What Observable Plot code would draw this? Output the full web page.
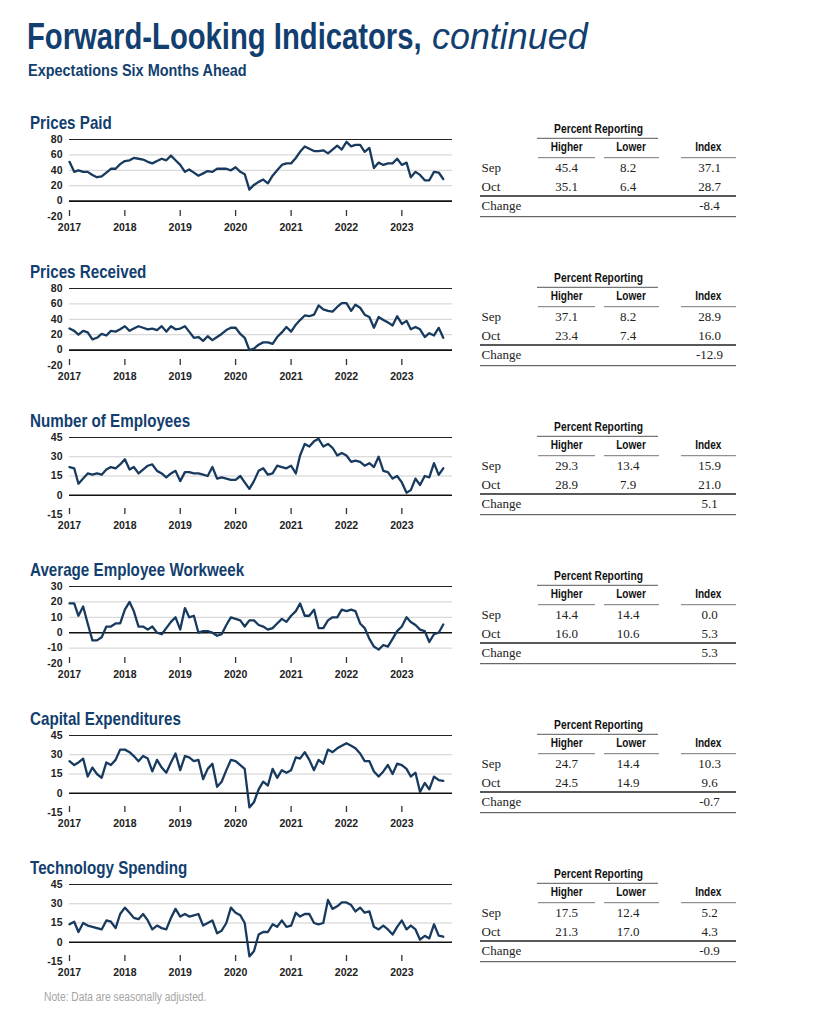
<!DOCTYPE html>
<html><head><meta charset="utf-8">
<script src="https://cdn.jsdelivr.net/npm/d3@7"></script>
<script src="https://cdn.jsdelivr.net/npm/@observablehq/plot@0.6"></script>
<style>
body{margin:0;background:#fff;}
#page{position:relative;width:813px;height:1012px;overflow:hidden;background:#fff;}
.abs{position:absolute;white-space:nowrap;line-height:1;}
</style></head><body><div id="page"></div>
<script>
// ---------- DATA (monthly, Jan 2017 – Oct 2023) ----------
const years = [2017, 2018, 2019, 2020, 2021, 2022, 2023];

const pricesPaid = [
  51, 38, 40, 38, 38, 34, 31, 32, 37, 42, 42, 48,
  52, 53, 56, 55, 54, 51, 49, 52, 55, 53, 59, 53,
  47, 38, 41, 37, 33, 36, 39, 38, 42, 42, 42, 40,
  44, 38, 35, 15, 21, 25, 28, 23, 33, 40, 47, 49,
  49, 56, 64, 71, 68, 65, 65, 66, 62, 67, 72, 67,
  77, 71, 73, 73, 64, 69, 43, 50, 47, 49, 49, 55,
  47, 50, 31, 38, 34, 27, 27, 38, 37.1, 28.7
];
const pricesReceived = [
  28, 25, 20, 25, 23, 14, 16, 21, 19, 25, 24, 27,
  31, 25, 28, 31, 29, 27, 28, 26, 31, 24, 31, 27,
  28, 31, 24, 16, 17, 12, 18, 13, 17, 21, 26, 29,
  29, 21, 16, 0, 2, 7, 10, 10, 8, 17, 23, 30,
  24, 33, 39, 45, 44, 46, 58, 53, 51, 50, 56, 61,
  61, 51, 59, 55, 46, 43, 29, 43, 39, 36, 32, 44,
  34, 38, 27, 30, 27, 17, 22, 19, 28.9, 16.0
];
const numberOfEmployees = [
  22, 21, 9, 13, 17, 16, 17, 16, 20, 22, 21, 24,
  28, 20, 22, 17, 20, 23, 24, 19, 17, 14, 17, 19,
  11, 18, 18, 17, 17, 16, 15, 22, 13, 14, 13, 12,
  12, 15, 10, 5, 11, 19, 21, 16, 17, 23, 22, 21,
  23, 17, 31, 40, 38, 42, 44, 38, 40, 37, 31, 33,
  31, 26, 27, 26, 23, 25, 22, 30, 19, 18, 13, 15,
  10, 2, 4, 13, 8, 15, 14, 25, 15.9, 21.0
];
const avgWorkweek = [
  19, 19, 11, 17, 6, -5, -5, -3, 4, 4, 6, 6,
  15, 20, 14, 4, 4, 2, 4, 0, -1, 3, 7, 10,
  2, 16, 10, 11, 0, 1, 1, 0, -2, -1, 5, 10,
  9, 8, 4, 8, 8, 5, 4, 2, 3, 6, 9, 7,
  11, 14, 19, 11, 11, 15, 3, 3, 8, 10, 10, 15,
  14, 15, 14, 6, 3, -4, -9, -11, -8, -9, -4, 1,
  4, 10, 7, 5, 2, 1, -6, -1, 0.0, 5.3
];
const capitalExpenditures = [
  25, 22, 24, 27, 13, 20, 15, 12, 24, 22, 26, 34,
  34, 32, 29, 25, 29, 27, 17, 26, 20, 16, 24, 31,
  18, 29, 28, 25, 26, 11, 19, 23, 5, 9, 18, 26,
  25, 22, 19, -11, -7, 3, 9, 6, 19, 12, 18, 16,
  18, 28, 27, 32, 26, 18, 26, 23, 34, 32, 35, 37,
  39, 37, 35, 31, 25, 25, 17, 13, 17, 22, 15, 23,
  22, 19, 13, 16, 1, 8, 3, 13, 10.3, 9.6
];
const technologySpending = [
  14, 16, 8, 15, 13, 12, 11, 10, 17, 16, 11, 22,
  27, 23, 19, 18, 22, 17, 10, 13, 11, 10, 19, 26,
  20, 22, 20, 21, 22, 13, 15, 17, 7, 9, 15, 27,
  23, 21, 15, -11, -7, 6, 8, 8, 14, 12, 17, 12,
  13, 23, 20, 22, 22, 15, 14, 15, 33, 26, 28, 31,
  31, 29, 24, 27, 23, 24, 12, 10, 13, 10, 6, 12,
  17, 10, 13, 10, 2, 5, 3, 14, 5.2, 4.3
];

const panelTitles = ["Prices Paid", "Prices Received", "Number of Employees",
  "Average Employee Workweek", "Capital Expenditures", "Technology Spending"];
const yDomains = [[-20, 80], [-20, 80], [-15, 45], [-20, 30], [-15, 45], [-15, 45]];
const yTickSets = [
  [-20, 0, 20, 40, 60, 80],
  [-20, 0, 20, 40, 60, 80],
  [-15, 0, 15, 30, 45],
  [-20, -10, 0, 10, 20, 30],
  [-15, 0, 15, 30, 45],
  [-15, 0, 15, 30, 45]
];

// Tables: [Higher, Lower, Index]
const tableSep = [
  ["45.4", "8.2", "37.1"], ["37.1", "8.2", "28.9"], ["29.3", "13.4", "15.9"],
  ["14.4", "14.4", "0.0"], ["24.7", "14.4", "10.3"], ["17.5", "12.4", "5.2"]
];
const tableOct = [
  ["35.1", "6.4", "28.7"], ["23.4", "7.4", "16.0"], ["28.9", "7.9", "21.0"],
  ["16.0", "10.6", "5.3"], ["24.5", "14.9", "9.6"], ["21.3", "17.0", "4.3"]
];
const tableChange = ["-8.4", "-12.9", "5.1", "5.3", "-0.7", "-0.9"];
const rowLabels = ["Sep", "Oct", "Change"];
const colLabels = ["Higher", "Lower", "Index"];

const seriesList = [pricesPaid, pricesReceived, numberOfEmployees, avgWorkweek, capitalExpenditures, technologySpending];

// ---------- LAYOUT ----------
const page = document.getElementById("page");
const BLUE = "#123f6f";
const LINE = "#173a5e";
const SANS = '"Liberation Sans",Arial,sans-serif';
const SERIF = '"Liberation Serif","Times New Roman",serif';
const NARROW_SCALE = 0.82;

function addText(text, left, top, style, scale) {
  const d = document.createElement("div");
  d.className = "abs";
  d.textContent = text;
  d.style.left = left + "px";
  d.style.top = top + "px";
  d.style.transformOrigin = "0 0";
  d.style.transform = `scaleX(${scale})`;
  Object.assign(d.style, style);
  page.appendChild(d);
  return d;
}

addText("Forward-Looking Indicators,", 27, 17.5, {fontFamily: SANS, fontWeight: "bold", fontSize: "37px", color: BLUE}, 0.79);
addText("continued", 432, 17.5, {fontFamily: SANS, fontStyle: "italic", fontSize: "37px", color: BLUE}, 0.97);
addText("Expectations Six Months Ahead", 28, 61.5, {fontFamily: SANS, fontWeight: "bold", fontSize: "17px", color: BLUE}, 0.85);

const yearDates = years.map(y => new Date(Date.UTC(y, 0, 1)));
const xDomain = [new Date(Date.UTC(2017, 0, 1)), new Date(Date.UTC(2023, 11, 1))];

function narrowText(svg, x, y, txt, size, anchor) {
  return svg.append("text")
    .attr("transform", `translate(${x},${y}) scale(${NARROW_SCALE},1)`)
    .attr("text-anchor", anchor)
    .attr("font-family", SANS).attr("font-size", size).attr("font-weight", "bold").attr("fill", "#111")
    .text(txt);
}

const STEP = 149;
seriesList.forEach((series, i) => {
  const off = i * STEP;
  addText(panelTitles[i], 30, 113.5 + off, {fontFamily: SANS, fontWeight: "bold", fontSize: "18.5px", color: BLUE}, NARROW_SCALE);

  const data = series.map((v, k) => ({date: new Date(Date.UTC(2017, k, 1)), value: v}));
  const [y0, y1] = yDomains[i];
  const ticks = yTickSets[i];
  const grid = ticks.filter(t => t !== 0 && t !== y0 && t !== y1);

  const chart = Plot.plot({
    width: 460, height: 110,
    marginLeft: 69, marginRight: 8, marginTop: 9, marginBottom: 24,
    x: {type: "utc", domain: xDomain},
    y: {domain: yDomains[i]},
    style: {fontFamily: SANS, fontSize: "10.5px", fontWeight: "bold", color: "#222", background: "transparent", overflow: "visible"},
    marks: [
      Plot.ruleY(grid, {stroke: "#cfcfcf", strokeWidth: 1}),
      Plot.ruleY([y1], {stroke: "#222", strokeWidth: 1}),
      Plot.ruleY([0], {stroke: "#111", strokeWidth: 1.6}),
      Plot.ruleX(yearDates, {x: d => d, y1: y0, y2: y0, insetTop: -6, stroke: "#333", strokeWidth: 1.3}),
      Plot.lineY(data, {x: "date", y: "value", stroke: LINE, strokeWidth: 2.3}),
      Plot.axisY(ticks, {tickSize: 0, tickPadding: 7, label: null, tickFormat: d => String(d)}),
      Plot.axisX(yearDates, {tickSize: 0, tickPadding: 7, label: null, tickFormat: d => String(d.getUTCFullYear())})
    ]
  });
  chart.style.position = "absolute";
  chart.style.left = "0px";
  chart.style.top = (130 + off) + "px";
  page.appendChild(chart);

  // table
  const ox = 470, oy = 115 + off;
  const svg = d3.create("svg").attr("width", 280).attr("height", 110)
    .style("position", "absolute").style("left", ox + "px").style("top", oy + "px").style("overflow", "visible");
  const X = x => x - ox, Y = y => y - 115;
  narrowText(svg, X(598.5), Y(133.3), "Percent Reporting", 12.5, "middle");
  svg.append("line").attr("x1", X(537)).attr("x2", X(658)).attr("y1", Y(138.3)).attr("y2", Y(138.3)).attr("stroke", "#555").attr("stroke-width", 1);
  const colX = [566.7, 631, 708.3];
  const valX = [566.7, 628, 709.5];
  const colLines = [[538, 595], [604, 659], [681, 736]];
  colLabels.forEach((c, j) => {
    narrowText(svg, X(colX[j]), Y(150.7), c, 12.3, "middle");
    svg.append("line").attr("x1", X(colLines[j][0])).attr("x2", X(colLines[j][1])).attr("y1", Y(157.7)).attr("y2", Y(157.7))
      .attr("stroke", "#777").attr("stroke-width", 1);
  });
  const rows = [tableSep[i], tableOct[i], ["", "", tableChange[i]]];
  const rowY = [171.7, 191, 210];
  rows.forEach((r, ri) => {
    svg.append("text").attr("x", X(481.5)).attr("y", Y(rowY[ri])).attr("font-family", SERIF).attr("font-size", 13).attr("fill", "#222").text(rowLabels[ri]);
    r.forEach((v, j) => {
      if (!v) return;
      svg.append("text").attr("x", X(valX[j])).attr("y", Y(rowY[ri])).attr("text-anchor", "middle")
        .attr("font-family", SERIF).attr("font-size", 13).attr("fill", "#222").text(v);
    });
  });
  svg.append("line").attr("x1", X(480)).attr("x2", X(736)).attr("y1", Y(196)).attr("y2", Y(196)).attr("stroke", "#222").attr("stroke-width", 1.3);
  svg.append("line").attr("x1", X(480)).attr("x2", X(736)).attr("y1", Y(216.7)).attr("y2", Y(216.7)).attr("stroke", "#444").attr("stroke-width", 1);
  page.appendChild(svg.node());
});

addText("Note: Data are seasonally adjusted.", 44, 991, {fontFamily: SANS, fontSize: "12.5px", color: "#a3a3a3"}, NARROW_SCALE);
</script></body></html>
